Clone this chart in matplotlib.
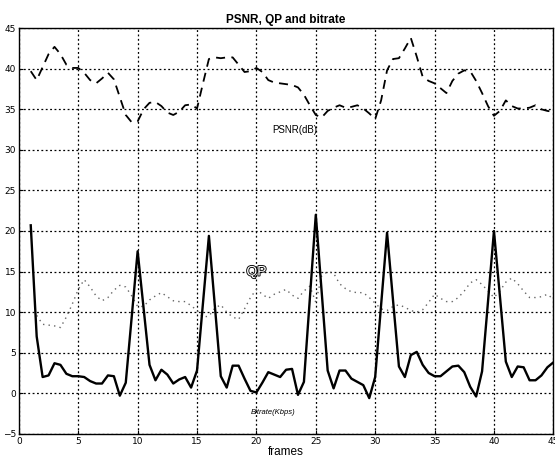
import numpy as np
import matplotlib
matplotlib.use('Agg')
import matplotlib.pyplot as plt
import matplotlib.patheffects as pe

# frame positions (half-frame steps, as in the reference curves)
frames = np.arange(1, 45.5, 0.5)

psnr = [39.7, 38.6, 40.2, 41.8, 42.7, 41.8, 40.5, 40.1, 40.1, 39.5,
        38.6, 38.2, 38.8, 39.5, 38.7, 36.5, 34.3, 33.4, 33.5, 35.0,
        35.8, 35.9, 35.4, 34.6, 34.3, 34.7, 35.5, 35.6, 35.1, 38.2,
        41.2, 41.4, 41.3, 41.4, 41.4, 40.5, 39.6, 39.7, 40.1, 39.6,
        38.6, 38.3, 38.2, 38.1, 38.0, 37.7, 36.8, 35.5, 34.3, 34.0,
        34.8, 35.2, 35.5, 35.2, 35.3, 35.5, 35.1, 34.5, 33.8, 36.1,
        39.8, 41.2, 41.3, 42.5, 43.8, 41.5, 39.0, 38.5, 38.2, 37.6,
        37.0, 38.5, 39.4, 39.8, 39.7, 38.5, 37.0, 35.4, 34.2, 34.8,
        36.1, 35.4, 35.1, 35.1, 35.2, 35.5, 35.0, 34.8, 34.7]

qp = [np.nan, 9.6, 8.5, 8.4, 8.3, 8.1, 9.4, 11.0, 12.8, 14.0,
      13.1, 12.0, 11.4, 11.8, 12.7, 13.3, 13.1, 12.0, 10.7, 10.7,
      11.5, 12.0, 12.4, 11.9, 11.4, 11.3, 11.3, 10.8, 10.2, 9.4,
      9.5, 10.5, 10.9, 10.0, 9.4, 9.1, 10.4, 11.8, 12.8, 12.2,
      11.7, 12.2, 12.5, 12.8, 12.1, 11.7, 12.6, 13.2, 11.2, 14.5,
      15.0, 14.8, 13.5, 12.9, 12.5, 12.4, 12.4, 11.8, 11.1, 10.4,
      10.2, 10.7, 10.9, 10.6, 10.2, 10.0, 10.3, 11.2, 12.2, 11.7,
      11.3, 11.3, 11.8, 12.6, 13.6, 14.0, 13.4, 12.6, 11.8, 12.6,
      13.7, 14.2, 13.5, 12.6, 11.8, 11.8, 11.9, 12.2, 11.6]

bitrate = [20.7, 7.0, 2.0, 2.2, 3.7, 3.5, 2.4, 2.1, 2.1, 2.0,
           1.5, 1.2, 1.2, 2.2, 2.1, -0.3, 1.3, 9.4, 17.5, 10.5,
           3.5, 1.6, 2.9, 2.3, 1.2, 1.7, 2.0, 0.7, 2.8, 11.1,
           19.4, 10.8, 2.1, 0.7, 3.4, 3.4, 1.8, 0.3, 0.1, 1.3,
           2.6, 2.3, 2.0, 2.9, 3.0, -0.2, 1.4, 11.7, 22.0, 12.4,
           2.8, 0.6, 2.8, 2.8, 1.8, 1.4, 1.0, -0.6, 2.0, 10.9,
           19.8, 11.5, 3.3, 2.0, 4.7, 5.1, 3.5, 2.5, 2.1, 2.1,
           2.7, 3.3, 3.4, 2.6, 0.8, -0.4, 2.7, 11.3, 20.0, 12.0,
           3.9, 2.0, 3.3, 3.2, 1.6, 1.6, 2.2, 3.2, 3.8]

xticks = [0, 5, 10, 15, 20, 25, 30, 35, 40, 45]
yticks = [-5, 0, 5, 10, 15, 20, 25, 30, 35, 40, 45]

fig = plt.figure(figsize=(5.55, 4.62), dpi=100)
ax = fig.add_axes([0.034, 0.061, 0.963, 0.878])

ax.plot(frames, psnr, color='black', linestyle=(0, (5, 3.5)), linewidth=1.3)
ax.plot(frames, qp, color='0.4', linestyle=(0, (1, 3)), linewidth=1.0)
ax.plot(frames, bitrate, color='black', linestyle='-', linewidth=1.7)

ax.set_xlim(0, 45)
ax.set_ylim(-5, 45)
ax.set_xticks(xticks)
ax.set_yticks(yticks)
ax.tick_params(direction='in', labelsize=6.5, length=3, pad=2)
ax.grid(True, color='black', linestyle=(0, (1.5, 2)), linewidth=0.9)
for s in ax.spines.values():
    s.set_linewidth(1.0)

ax.text(23.2, 32.4, 'PSNR(dB)', fontsize=7, ha='center', va='center',
        family='Liberation Sans')
qp_txt = ax.text(20.0, 15.0, 'QP', fontsize=10, ha='center', va='center',
                 family='Liberation Sans', color='white')
qp_txt.set_path_effects([pe.withStroke(linewidth=1.3, foreground='black')])
ax.text(21.4, -2.4, 'Bitrate(Kbps)', fontsize=5.5, ha='center', va='center',
        family='Liberation Sans', style='italic')

ax.set_title('PSNR, QP and bitrate', fontsize=8.5, fontweight='bold',
             family='Liberation Sans', pad=4)
ax.set_xlabel('frames', fontsize=8.5, family='Liberation Sans', labelpad=0)

fig.savefig('out.png', dpi=100)
